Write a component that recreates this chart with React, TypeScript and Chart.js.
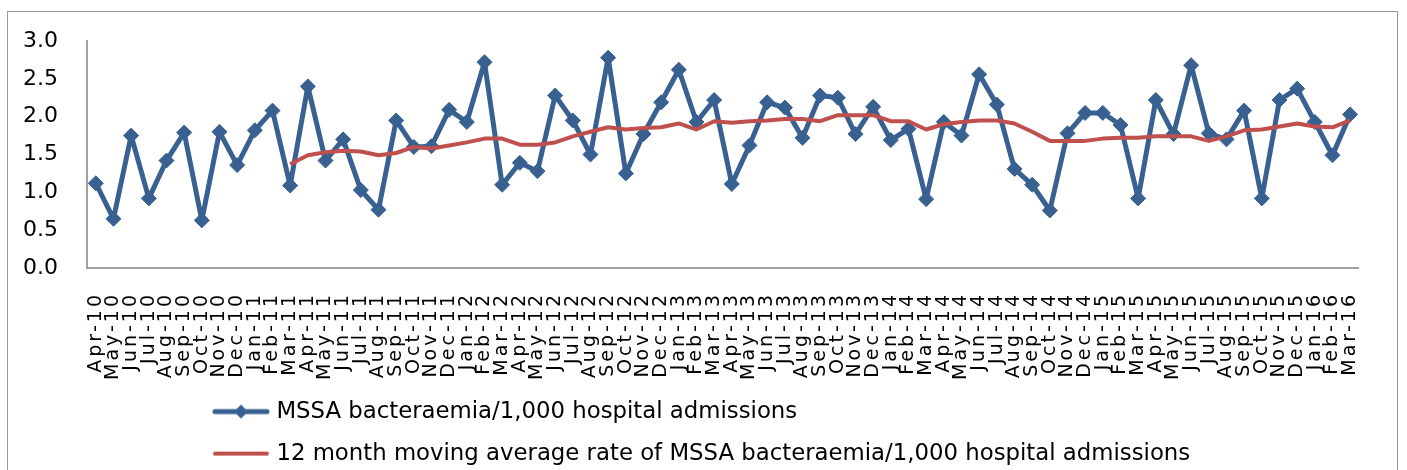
import React, { useEffect, useRef } from 'react';
import { Chart, registerables } from 'chart.js';

Chart.register(...registerables);

const months = [
  'Apr-10', 'May-10', 'Jun-10', 'Jul-10', 'Aug-10', 'Sep-10', 'Oct-10', 'Nov-10', 'Dec-10',
  'Jan-11', 'Feb-11', 'Mar-11', 'Apr-11', 'May-11', 'Jun-11', 'Jul-11', 'Aug-11', 'Sep-11', 'Oct-11', 'Nov-11', 'Dec-11',
  'Jan-12', 'Feb-12', 'Mar-12', 'Apr-12', 'May-12', 'Jun-12', 'Jul-12', 'Aug-12', 'Sep-12', 'Oct-12', 'Nov-12', 'Dec-12',
  'Jan-13', 'Feb-13', 'Mar-13', 'Apr-13', 'May-13', 'Jun-13', 'Jul-13', 'Aug-13', 'Sep-13', 'Oct-13', 'Nov-13', 'Dec-13',
  'Jan-14', 'Feb-14', 'Mar-14', 'Apr-14', 'May-14', 'Jun-14', 'Jul-14', 'Aug-14', 'Sep-14', 'Oct-14', 'Nov-14', 'Dec-14',
  'Jan-15', 'Feb-15', 'Mar-15', 'Apr-15', 'May-15', 'Jun-15', 'Jul-15', 'Aug-15', 'Sep-15', 'Oct-15', 'Nov-15', 'Dec-15',
  'Jan-16', 'Feb-16', 'Mar-16',
];

const mssaRate = [
  1.12, 0.65, 1.75, 0.92, 1.42, 1.79, 0.63, 1.80, 1.36,
  1.82, 2.08, 1.09, 2.40, 1.42, 1.70, 1.03, 0.77, 1.95, 1.60, 1.61, 2.09,
  1.93, 2.72, 1.10, 1.39, 1.28, 2.28, 1.95, 1.50, 2.78, 1.25, 1.77, 2.19,
  2.62, 1.93, 2.22, 1.11, 1.62, 2.19, 2.12, 1.72, 2.28, 2.25, 1.77, 2.13,
  1.69, 1.84, 0.91, 1.93, 1.75, 2.56, 2.16, 1.31, 1.10, 0.76, 1.78, 2.05,
  2.05, 1.89, 0.92, 2.22, 1.77, 2.68, 1.78, 1.70, 2.08, 0.92, 2.22, 2.37,
  1.93, 1.49, 2.03,
];

const movingAverage = [
  null, null, null, null, null, null, null, null, null,
  null, null, 1.37, 1.49, 1.53, 1.55, 1.54, 1.49, 1.52, 1.60, 1.58, 1.62,
  1.66, 1.71, 1.71, 1.63, 1.63, 1.66, 1.74, 1.80, 1.86, 1.83, 1.85, 1.86,
  1.91, 1.83, 1.94, 1.92, 1.94, 1.95, 1.97, 1.97, 1.94, 2.02, 2.02, 2.02,
  1.94, 1.94, 1.83, 1.90, 1.93, 1.95, 1.95, 1.91, 1.80, 1.68, 1.68, 1.68,
  1.71, 1.72, 1.72, 1.74, 1.74, 1.74, 1.68, 1.74, 1.82, 1.83, 1.87, 1.91,
  1.87, 1.86, 1.95,
];

const seriesNames = [
  'MSSA bacteraemia/1,000 hospital admissions',
  '12 month moving average rate of MSSA bacteraemia/1,000 hospital admissions',
];

const BLUE = '#386192';
const RED = '#C0504D';
const AXIS = '#a0a0a0';
const FONT = 'DejaVu Sans';

function legendSymbol(color: string, lineWidth: number, marker: boolean) {
  const c = document.createElement('canvas');
  c.width = 58;
  c.height = 16;
  const g = c.getContext('2d')!;
  g.strokeStyle = color;
  g.lineWidth = lineWidth;
  g.lineCap = 'round';
  g.beginPath();
  g.moveTo(3, 8);
  g.lineTo(55, 8);
  g.stroke();
  if (marker) {
    g.fillStyle = color;
    g.beginPath();
    g.moveTo(22, 8);
    g.lineTo(29, 1);
    g.lineTo(36, 8);
    g.lineTo(29, 15);
    g.closePath();
    g.fill();
  }
  return c;
}

const xLabelSpacing = {
  id: 'xLabelSpacing',
  afterDatasetsDraw(chart: any) {
    chart.ctx.letterSpacing = '3px';
  },
  afterDraw(chart: any) {
    chart.ctx.letterSpacing = '0px';
  },
};

const legendAlign = {
  id: 'legendAlign',
  beforeDraw(chart: any) {
    const lg = chart.legend;
    if (!lg || !lg.lineWidths) return;
    const pad = lg.options.labels.padding;
    const w = lg.left + pad + lg.right - 2 * 209;
    lg.lineWidths = lg.lineWidths.map(() => w);
  },
};

export default function App() {
  const ref = useRef<HTMLCanvasElement>(null);

  useEffect(() => {
    if (!ref.current) return;
    const symbols = [legendSymbol(BLUE, 5, true), legendSymbol(RED, 4, false)];
    const chart = new Chart(ref.current, {
      type: 'line',
      data: {
        labels: months,
        datasets: [
          {
            label: seriesNames[0],
            data: mssaRate,
            borderColor: BLUE,
            backgroundColor: BLUE,
            borderWidth: 5,
            borderJoinStyle: 'round',
            pointStyle: 'rectRot',
            pointRadius: 7.5,
            pointBorderWidth: 1,
            pointBackgroundColor: BLUE,
            pointBorderColor: BLUE,
            tension: 0,
            order: 1,
          },
          {
            label: seriesNames[1],
            data: movingAverage,
            borderColor: RED,
            backgroundColor: RED,
            borderWidth: 4,
            borderJoinStyle: 'round',
            pointRadius: 0,
            tension: 0,
            order: 0,
          },
        ],
      },
      options: {
        animation: false,
        responsive: false,
        events: [],
        layout: { padding: { top: 29, right: 8, left: 15, bottom: 0 } },
        plugins: {
          tooltip: { enabled: false },
          legend: {
            position: 'bottom',
            align: 'center',
            labels: {
              usePointStyle: true,
              pointStyleWidth: 48,
              color: '#000',
              padding: 19.2,
              font: { family: FONT, size: 22.8 },
              generateLabels(c: any) {
                const items = Chart.defaults.plugins.legend.labels.generateLabels(c);
                items.sort((a: any, b: any) => a.datasetIndex - b.datasetIndex);
                return items.map((it: any) => ({ ...it, pointStyle: symbols[it.datasetIndex] }));
              },
            },
          },
        },
        scales: {
          x: {
            type: 'category',
            offset: true,
            grid: { display: false, drawTicks: false },
            border: { display: true, color: AXIS, width: 2 },
            ticks: {
              autoSkip: false,
              minRotation: 90,
              maxRotation: 90,
              padding: 24,
              color: '#000',
              font: { family: FONT, size: 19 },
              z: 1,
            },
            afterFit(s: any) {
              s.height = 113;
            },
          },
          y: {
            min: 0,
            max: 3,
            grid: { display: false, drawTicks: false },
            border: { display: true, color: AXIS, width: 2 },
            ticks: {
              stepSize: 0.5,
              padding: 0,
              crossAlign: 'far',
              color: '#000',
              font: { family: FONT, size: 22 },
              callback: (v: any) => Number(v).toFixed(1),
            },
            afterFit(s: any) {
              s.width = 64;
            },
          },
        },
      },
      plugins: [xLabelSpacing, legendAlign],
    } as any);
    return () => chart.destroy();
  }, []);

  return (
    <div
      style={{
        position: 'absolute',
        left: 7,
        top: 11,
        width: 1391,
        height: 478,
        border: '1px solid #999',
        boxSizing: 'border-box',
        background: '#fff',
      }}
    >
      <canvas ref={ref} width={1389} height={463} style={{ display: 'block' }} />
    </div>
  );
}
